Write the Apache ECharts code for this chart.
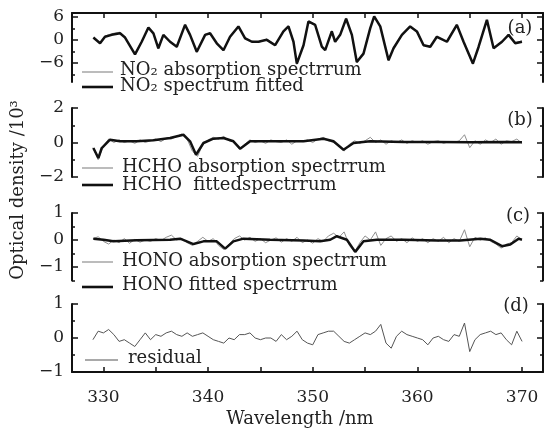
<!DOCTYPE html>
<html><head><meta charset="utf-8">
<script src="https://cdn.jsdelivr.net/npm/echarts@6/dist/echarts.min.js"></script>
<style>html,body{margin:0;padding:0;background:#fff}#c{width:553px;height:431px}</style>
</head><body><div id="c"></div>
<script>
// ---- data ----
const no2Wl = [329.04,329.68,330.15,330.79,331.59,332.07,333.02,333.66,334.30,334.78,335.25,335.73,336.37,337.01,337.80,338.28,338.92,339.72,340.19,340.83,341.47,342.10,342.90,343.54,344.18,344.81,345.61,346.41,347.20,347.68,348.16,348.48,349.12,349.59,350.23,350.87,351.19,351.82,352.14,352.62,353.19,353.74,354.21,354.85,355.49,355.87,356.45,357.24,357.72,358.52,359.31,359.95,360.59,361.23,361.86,362.82,363.77,364.41,365.30,365.85,366.64,367.28,368.08,368.71,369.35,369.99];
const no2Fit = [0.6,-0.9,0.8,1.3,1.7,0.6,-3.8,-0.5,3.2,1.7,-2.2,1.3,-0.5,-1.8,3.9,1.3,-3.1,1.3,1.7,-0.9,-2.7,0.8,3.5,0.4,-0.5,-0.5,0.0,-1.4,2.2,3.5,-0.5,-6.2,-1.4,4.8,3.9,-1.8,-2.7,2.2,-0.5,1.3,5.5,1.3,-5.8,-3.6,3.0,6.1,3.5,-5.3,-2.2,1.3,3.5,2.2,-1.4,-1.8,0.8,-0.5,3.9,-0.5,-6.2,-1.8,5.2,-2.2,-0.5,1.3,-0.9,-0.5];
const no2Abs = [0.4,-0.7,1.0,1.6,2.0,0.4,-3.6,-0.3,3.0,1.9,-2.4,1.1,-0.3,-2.0,4.1,1.1,-3.3,1.5,1.5,-0.7,-2.9,1.0,3.3,0.6,-0.3,-0.7,0.2,-1.2,2.0,3.7,-0.3,-6.4,-1.2,4.6,4.1,-2.0,-2.5,2.4,-0.1,1.1,5.7,1.1,-6.0,-3.4,3.2,5.9,3.7,-5.5,-2.0,1.5,3.3,2.4,-1.2,-2.0,1.0,-0.3,4.1,-0.7,-6.4,-1.6,5.0,-2.0,-0.7,1.5,-0.7,-0.3];

const hchoWl = [329.04,329.52,329.84,330.63,331.59,333.18,334.78,336.37,337.64,338.28,338.85,339.56,340.51,341.47,342.42,343.06,344.02,345.93,349.12,351.03,351.98,352.94,353.90,355.49,358.68,361.86,365.05,368.24,369.99];
const hchoFit = [-0.32,-0.90,-0.32,0.16,0.07,0.07,0.13,0.26,0.45,0.07,-0.71,-0.03,0.22,0.26,0.07,-0.36,0.07,0.07,0.07,0.22,0.07,-0.42,-0.03,0.07,0.03,0.03,0.01,0.03,0.01];

const honoWl = [329.04,330.00,330.95,333.18,336.37,337.33,338.60,339.56,340.83,341.63,342.42,343.38,345.93,349.12,350.71,351.67,352.30,353.26,354.06,354.85,356.13,358.68,361.86,364.09,366.01,366.96,368.08,368.87,369.67,369.99];
const honoFit = [0.05,0.01,-0.05,-0.01,0.01,0.05,-0.15,-0.05,-0.05,-0.32,-0.05,0.05,0.01,-0.02,-0.05,0.01,0.14,0.01,-0.44,-0.05,0.01,0.01,-0.02,-0.02,0.05,0.01,-0.23,-0.17,0.05,0.01];

const gridWl = [329,329.5,330,330.5,331,331.5,332,332.5,333,333.5,334,334.5,335,335.5,336,336.5,337,337.5,338,338.5,339,339.5,340,340.5,341,341.5,342,342.5,343,343.5,344,344.5,345,345.5,346,346.5,347,347.5,348,348.5,349,349.5,350,350.5,351,351.5,352,352.5,353,353.5,354,354.5,355,355.5,356,356.5,357,357.5,358,358.5,359,359.5,360,360.5,361,361.5,362,362.5,363,363.5,364,364.5,365,365.5,366,366.5,367,367.5,368,368.5,369,369.5,370];
const hchoAbs = [-0.3,-1.0,-0.2,0.2,0.0,0.15,0.0,0.1,-0.05,0.15,
  0.0,0.1,0.2,0.05,0.25,0.2,0.35,0.5,0.2,-0.5,
  -0.8,-0.1,0.15,0.3,0.2,0.35,0.1,0.05,-0.4,-0.1,
  0.15,0.0,0.1,-0.05,0.15,0.05,0.0,0.15,-0.1,0.1,
  0.05,0.15,0.0,0.2,0.3,0.1,0.0,-0.2,-0.5,-0.1,
  0.1,-0.05,0.1,0.3,0.0,0.15,-0.1,0.1,0.0,0.15,
  -0.05,0.1,0.0,0.1,-0.1,0.05,0.1,-0.05,0.05,0.0,
  0.1,0.45,-0.3,0.1,-0.1,0.15,0.0,0.2,-0.1,0.1,
  0.05,0.2,-0.05];
const honoAbs = [0.05,0.12,-0.05,-0.15,0.0,-0.1,0.05,-0.12,0.02,-0.08,
  0.0,-0.05,0.05,-0.02,0.1,0.18,0.0,0.05,-0.1,-0.2,
  -0.05,0.1,-0.05,0.05,-0.2,-0.35,-0.15,0.05,0.15,0.0,
  0.1,-0.05,0.05,-0.1,0.0,0.08,-0.08,0.05,-0.05,0.1,
  -0.1,0.0,-0.12,0.05,-0.05,0.15,0.25,0.1,0.3,-0.2,
  -0.45,-0.1,0.15,0.0,0.3,-0.2,0.05,0.15,-0.05,0.05,
  -0.1,0.08,-0.05,0.05,-0.1,0.05,-0.05,0.1,-0.1,0.05,
  -0.05,0.38,-0.25,0.1,0.0,0.08,-0.05,-0.15,-0.3,-0.15,
  -0.1,0.15,0.0];
const residual = [-0.05,0.2,0.15,0.25,0.1,-0.1,-0.05,-0.15,-0.25,-0.05,
  0.15,-0.05,0.1,0.05,0.15,0.2,0.1,0.05,0.15,0.05,
  0.1,0.15,0.05,-0.05,-0.1,-0.15,0.0,-0.05,0.1,0.1,
  0.15,0.0,-0.05,0.0,0.0,-0.1,0.1,-0.05,0.05,0.2,
  -0.05,-0.15,-0.2,0.1,0.15,0.2,0.2,0.05,-0.1,-0.15,
  -0.05,0.05,0.15,0.1,0.2,0.4,-0.15,-0.3,0.05,0.2,
  0.1,0.05,0.0,-0.05,-0.2,0.0,0.05,-0.05,-0.1,0.1,
  0.05,0.44,-0.4,-0.05,0.1,0.15,0.2,0.1,0.15,-0.05,
  -0.2,0.2,-0.1];

const xTicks = [330,335,340,345,350,355,360,365,370];
const xLabels = [330,340,350,360,370];
const yA = {min:-11, max:7, major:[-6,0,6], minor:[-9,-3,3]};
const yB = {min:-2, max:2, major:[-2,0,2], minor:[-1,1]};
const yC = {min:-1.5, max:1, major:[-1,0,1], minor:[-1.5,-0.5,0.5]};
const yD = {min:-1, max:1, major:[-1,0,1], minor:[-0.5,0.5]};

// ---- chart ----
const FONT = '"DejaVu Serif", serif';
const INK = '#111';
const GRAY = '#8f8f8f';
const pairs = (xs, ys) => xs.map((x, i) => [x, ys[i]]);

const grids = [
  {left:72, right:10, top:13, height:69},
  {left:72, right:10, top:108, height:69},
  {left:72, right:10, top:213, height:67.5},
  {left:72, right:10, top:304, height:68}
];

function yAxesFor(gi, p) {
  const base = {gridIndex:gi, type:'value', min:p.min, max:p.max, splitLine:{show:false}};
  const line = {show:true, onZero:false, lineStyle:{color:INK, width:2}};
  const tk = (vals, len) => ({show:true, inside:true, length:len, customValues:vals, lineStyle:{color:INK, width:1.5}});
  return [
    Object.assign({}, base, {position:'left', axisLine:line, axisTick:tk(p.major, 6),
      axisLabel:{show:true, customValues:p.major, margin:8, color:'#222', fontFamily:FONT, fontSize:17,
        formatter: v => String(v).replace('-', '\u2212')}}),
    Object.assign({}, base, {position:'left', axisLine:{show:false, onZero:false}, axisTick:tk(p.minor, 3), axisLabel:{show:false}}),
    Object.assign({}, base, {position:'right', axisLine:line, axisTick:tk(p.major, 6), axisLabel:{show:false}}),
    Object.assign({}, base, {position:'right', axisLine:{show:false, onZero:false}, axisTick:tk(p.minor, 3), axisLabel:{show:false}})
  ];
}

const xBase = {type:'value', min:327, max:372, splitLine:{show:false}};
const xAxes = [
  Object.assign({}, xBase, {gridIndex:0, position:'top', axisLine:{show:true, onZero:false, lineStyle:{color:INK, width:2}},
    axisTick:{show:true, inside:true, length:5, customValues:xTicks, lineStyle:{color:INK, width:1.5}}, axisLabel:{show:false}}),
  Object.assign({}, xBase, {gridIndex:1, show:false}),
  Object.assign({}, xBase, {gridIndex:2, show:false}),
  Object.assign({}, xBase, {gridIndex:3, position:'bottom', axisLine:{show:true, onZero:false, lineStyle:{color:INK, width:2}},
    axisTick:{show:true, inside:true, length:5, customValues:xTicks, lineStyle:{color:INK, width:1.5}},
    axisLabel:{show:true, customValues:xLabels, margin:17, color:'#222', fontFamily:FONT, fontSize:17}})
];

const yAxes = [].concat(yAxesFor(0, yA), yAxesFor(1, yB), yAxesFor(2, yC), yAxesFor(3, yD));

function ser(name, gi, data, color, width) {
  return {name, type:'line', xAxisIndex:gi, yAxisIndex:gi*4, data, showSymbol:false, symbol:'none',
    lineStyle:{color, width}, itemStyle:{color}, silent:true, z: width > 1.5 ? 3 : 2};
}

const series = [
  ser('NO2 absorption spectrrum', 0, pairs(no2Wl, no2Abs), GRAY, 1),
  ser('NO2 spectrum fitted', 0, pairs(no2Wl, no2Fit), INK, 2.5),
  ser('HCHO absorption spectrrum', 1, pairs(gridWl, hchoAbs), GRAY, 1),
  ser('HCHO fittedspectrrum', 1, pairs(hchoWl, hchoFit), INK, 2.5),
  ser('HONO absorption spectrrum', 2, pairs(gridWl, honoAbs), GRAY, 1),
  ser('HONO fitted spectrrum', 2, pairs(honoWl, honoFit), INK, 2.5),
  ser('residual', 3, pairs(gridWl, residual), '#555', 1)
];

function txt(text, x, y, opts) {
  return Object.assign({type:'text', x, y, silent:true, style:Object.assign({text, fill:'#222', font:'18px ' + FONT,
    align:'left', verticalAlign:'middle', textAlign:'left', textVerticalAlign:'middle'}, opts || {})});
}
function seg(x1, x2, y, color, w) {
  return {type:'line', silent:true, shape:{x1, y1:y, x2, y2:y}, style:{stroke:color, lineWidth:w}};
}

const graphic = [
  seg(82, 113, 72, GRAY, 1.2), txt('NO\u2082 absorption spectrrum', 120, 70),
  seg(82, 113, 87, INK, 2.6), txt('NO\u2082 spectrum fitted', 120, 86),
  seg(82, 113, 168, GRAY, 1.2), txt('HCHO absorption spectrrum', 122, 167),
  seg(82, 113, 185, INK, 2.6), txt('HCHO  fittedspectrrum', 122, 185),
  seg(82, 113, 262, GRAY, 1.2), txt('HONO absorption spectrrum', 122, 261),
  seg(82, 113, 287, INK, 2.6), txt('HONO fitted spectrrum', 122, 285),
  seg(85, 118, 360, '#555', 1.2), txt('residual', 128, 358),
  txt('(a)', 520, 28, {align:'center', textAlign:'center'}),
  txt('(b)', 520, 120, {align:'center', textAlign:'center'}),
  txt('(c)', 518, 216, {align:'center', textAlign:'center'}),
  txt('(d)', 516, 306, {align:'center', textAlign:'center'}),
  Object.assign(txt('Optical density /10\u00b3', 18, 190, {align:'center', textAlign:'center'}), {rotation: Math.PI / 2}),
  txt('Wavelength /nm', 300, 419, {align:'center', textAlign:'center'})
];

const chart = echarts.init(document.getElementById('c'), null, {renderer:'canvas'});
chart.setOption({
  animation:false,
  backgroundColor:'#fff',
  grid:grids,
  xAxis:xAxes,
  yAxis:yAxes,
  series,
  graphic
});
</script></body></html>
